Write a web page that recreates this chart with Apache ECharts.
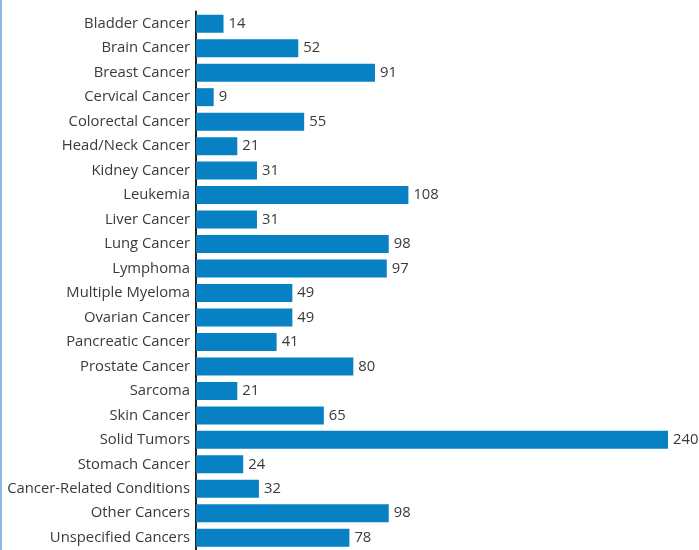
<!DOCTYPE html>
<html><head><meta charset="utf-8">
<script src="https://cdn.jsdelivr.net/npm/echarts@6/dist/echarts.min.js"></script>
<style>html,body{margin:0;padding:0;background:#fff}#c{width:699px;height:550px;border-left:2px solid #8fb8e0;box-sizing:border-box}</style>
</head><body><div id="c"></div>
<script>
const categories = ["Bladder Cancer","Brain Cancer","Breast Cancer","Cervical Cancer","Colorectal Cancer","Head/Neck Cancer","Kidney Cancer","Leukemia","Liver Cancer","Lung Cancer","Lymphoma","Multiple Myeloma","Ovarian Cancer","Pancreatic Cancer","Prostate Cancer","Sarcoma","Skin Cancer","Solid Tumors","Stomach Cancer","Cancer-Related Conditions","Other Cancers","Unspecified Cancers"];
const values = [14,52,91,9,55,21,31,108,31,98,97,49,49,41,80,21,65,240,24,32,98,78];
const chart = echarts.init(document.getElementById('c'));
chart.setOption({
  animation:false,
  grid:{left:194,top:11.5,width:472,height:543},
  xAxis:{type:'value',min:0,max:240,show:false},
  yAxis:{type:'category',data:categories,inverse:true,
    axisLine:{lineStyle:{color:'#222',width:2}},axisTick:{show:false},
    axisLabel:{color:'#3a3a3a',fontSize:14.8,fontFamily:'Open Sans',margin:6}},
  series:[{type:'bar',data:values,barWidth:18,
    itemStyle:{color:'#0880c4'},
    label:{show:true,position:'right',distance:5,color:'#3a3a3a',fontSize:14.8,fontFamily:'Open Sans'}}]
});
</script></body></html>
